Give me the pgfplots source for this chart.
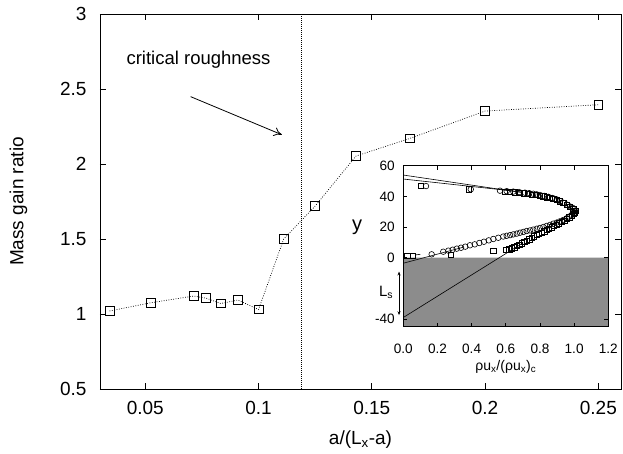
\documentclass[border=0pt]{standalone}
\usepackage{fontspec}
\setmainfont{Liberation Sans}
\usepackage{pgfplots}
\pgfplotsset{compat=1.18}
\usetikzlibrary{arrows.meta}
\definecolor{wallgray}{gray}{0.55}

% main curve: mass gain ratio vs a/(Lx-a)
\pgfplotstableread{
x y
0.0342 1.02
0.0525 1.075
0.0714 1.12
0.0769 1.105
0.0833 1.07
0.0909 1.093
0.1000 1.03
0.1111 1.50
0.1250 1.72
0.1430 2.053
0.1667 2.17
0.2000 2.353
0.2500 2.395
}\massgain

% inset: circles
\pgfplotstableread{
u y
0.166 2.2
0.234 3.9
0.264 4.6
0.289 5.2
0.313 5.9
0.338 6.5
0.363 7.2
0.390 8.1
0.418 8.7
0.445 9.6
0.472 10.4
0.500 11.3
0.527 12.2
0.556 13.0
0.585 13.8
0.605 14.3
0.625 14.7
0.644 15.2
0.664 15.7
0.683 16.3
0.703 16.8
0.722 17.4
0.742 17.8
0.761 18.3
0.781 18.9
0.800 19.4
0.820 20.0
0.839 20.7
0.859 21.4
0.878 22.2
0.898 22.9
0.917 23.7
0.937 24.6
0.957 25.7
0.972 26.8
0.986 27.9
0.998 28.8
1.006 29.5
1.005 30.5
1.000 31.7
0.990 32.6
0.976 33.4
0.958 34.6
0.937 35.8
0.918 36.9
0.898 38.0
0.874 38.9
0.849 39.7
0.825 40.3
0.800 40.9
0.781 41.3
0.761 41.7
0.737 42.1
0.712 42.4
0.678 42.8
0.644 43.1
0.605 43.4
0.566 43.7
0.395 44.6
0.133 46.7
}\circles

% inset: squares
\pgfplotstableread{
u y
0.023 1.3
0.055 1.3
0.277 1.8
0.527 4.4
0.601 5.0
0.620 5.5
0.635 6.1
0.650 6.8
0.664 7.6
0.679 8.5
0.693 9.4
0.708 10.2
0.722 11.1
0.737 12.0
0.752 13.0
0.766 13.9
0.781 14.8
0.795 15.5
0.810 16.3
0.825 17.2
0.839 18.1
0.854 19.0
0.869 19.8
0.883 20.6
0.898 21.5
0.912 22.4
0.927 23.3
0.942 24.2
0.957 25.2
0.972 26.3
0.986 27.4
0.996 28.5
1.005 29.4
1.012 30.4
0.995 31.6
0.976 33.1
0.957 34.6
0.937 35.7
0.917 36.8
0.898 37.6
0.878 38.3
0.859 38.9
0.839 39.4
0.820 40.0
0.800 40.5
0.776 40.8
0.752 41.1
0.728 41.6
0.703 42.0
0.679 42.3
0.654 42.6
0.625 42.9
0.595 43.1
0.385 44.6
0.103 46.7
}\squares

\begin{document}
\begin{tikzpicture}
\useasboundingbox (-100pt,-65pt) rectangle (523pt,389pt);
\begin{axis}[
  at={(0pt,0pt)}, anchor=south west,
  scale only axis, width=521pt, height=375pt,
  xmin=0.03, xmax=0.26, ymin=0.5, ymax=3,
  xtick={0.05,0.1,0.15,0.2,0.25},
  xticklabels={0.05,0.1,0.15,0.2,0.25},
  ytick={0.5,1,1.5,2,2.5,3},
  yticklabels={0.5,1,1.5,2,2.5,3},
  tick align=inside, major tick length=6pt,
  axis line style={line width=0.9pt},
  tick style={line width=0.8pt, black},
  tick label style={font=\fontsize{19}{22}\selectfont},
  xticklabel style={yshift=-9pt},
  yticklabel style={xshift=-10pt},
  xlabel={a/(L\textsubscript{x}-a)},
  ylabel={Mass gain ratio},
  label style={font=\fontsize{19}{22}\selectfont},
  xlabel style={at={(axis description cs:0.5,-0.136)}, anchor=center},
  ylabel style={at={(axis description cs:-0.1564,0.5)}, anchor=center},
  clip=false,
]
% critical roughness marker
\addplot[line width=0.7pt, dash pattern=on 0.7pt off 1.3pt] coordinates {(0.119,0.5) (0.119,3)};
\addplot[line width=0.7pt, dash pattern=on 0.8pt off 1.6pt,
  mark=square, mark size=4.4pt, mark options={solid, line width=0.8pt}]
  table[x=x, y=y] {\massgain};
\node[font=\fontsize{18.5}{22}\selectfont] at (axis cs:0.0735,2.693) {critical roughness};
\draw[line width=0.8pt, -{To[length=8pt,width=9pt]}] (axis cs:0.070,2.449) -- (axis cs:0.1103,2.195);
\end{axis}

\begin{axis}[
  at={(303.3pt,62.3pt)}, anchor=south west,
  scale only axis, width=205pt, height=161pt,
  xmin=0, xmax=1.2, ymin=-45, ymax=60,
  xtick={0,0.2,0.4,0.6,0.8,1.0,1.2},
  xticklabels={0.0,0.2,0.4,0.6,0.8,1.0,1.2},
  ytick={-40,0,20,40,60},
  yticklabels={-40,0,20,40,60},
  axis background/.style={fill=white},
  axis on top,
  tick align=inside, major tick length=4pt,
  axis line style={line width=0.9pt},
  tick style={line width=0.8pt, black},
  tick label style={font=\fontsize{13.6}{16}\selectfont},
  xticklabel style={yshift=-14pt},
  yticklabel style={xshift=-5pt},
  xlabel={ρu\textsubscript{x}/(ρu\textsubscript{x})\textsubscript{c}},
  label style={font=\fontsize{14}{16}\selectfont},
  xlabel style={at={(axis description cs:0.5,-0.248)}, anchor=center},
  clip=false,
]
% wall region
\addplot[draw=none, fill=wallgray] coordinates {(0,0) (1.2,0) (1.2,-45) (0,-45) (0,0)};
% tangent lines
\addplot[line width=0.6pt] coordinates {(0,-39) (0.70,9.6)};
\addplot[line width=0.6pt] coordinates {(0,-3.6) (0.35,6.8)};
\addplot[line width=0.6pt] coordinates {(0.07,1.8) (0.10,2.2)};
\addplot[line width=0.6pt] coordinates {(0,53.9) (0.70,42.4)};
\addplot[line width=0.6pt] coordinates {(0,51.3) (0.70,42.8)};
\addplot[only marks, mark=o, mark size=2.8pt, mark options={line width=0.6pt}]
  table[x=u, y=y] {\circles};
\addplot[only marks, mark=square, mark size=2.6pt, mark options={line width=0.6pt}]
  table[x=u, y=y] {\squares};
\node[font=\fontsize{20}{22}\selectfont] at (axis cs:-0.271,20) {y};
\node[font=\fontsize{15}{17}\selectfont] at (axis cs:-0.101,-22.4) {L\textsubscript{s}};
\draw[line width=0.6pt, {Stealth[length=4pt,width=3pt]}-{Stealth[length=4pt,width=3pt]}]
  (axis cs:-0.025,-9) -- (axis cs:-0.025,-37.5);
\end{axis}
\end{tikzpicture}
\end{document}
